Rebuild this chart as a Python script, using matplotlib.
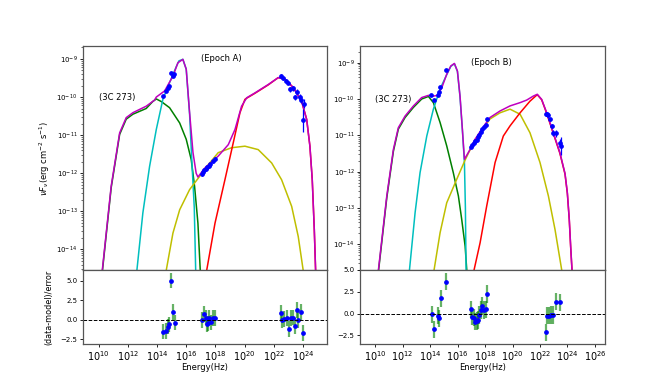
import numpy as np
import matplotlib
matplotlib.use("Agg")
import matplotlib.pyplot as plt

# ---- Epoch A model curves (log10 nu, log10 nuFnu) ----
totA_nu = [10.1, 10.25, 10.86, 11.44, 11.89, 12.35, 13.26, 13.83, 13.95, 14.52, 15.09, 15.43, 15.77, 16.0, 16.23,
           16.46, 16.68, 16.8, 17.28, 18.19, 18.88, 19.34, 19.79, 20.14, 20.71, 21.62, 22.3, 22.76, 23.33, 23.9,
           24.25, 24.47, 24.63, 24.77, 24.86, 24.95]
totA_f = [-15.2, -14.55, -12.34, -10.94, -10.54, -10.41, -10.24, -10.08, -10.0, -9.84, -9.45, -9.1, -9.01, -9.27,
          -10.41, -11.45, -12.0, -12.1, -11.86, -11.55, -11.25, -10.85, -10.24, -10.02, -9.89, -9.67, -9.49, -9.53,
          -9.75, -10.11, -10.59, -11.29, -12.17, -13.48, -14.55, -15.5]
synA_nu = [10.1, 10.25, 10.86, 11.44, 11.89, 12.35, 13.26, 13.7, 13.95, 14.3, 14.86, 15.55, 16.0, 16.34, 16.57,
           16.8, 16.96, 17.05]
synA_f = [-15.25, -14.6, -12.38, -10.98, -10.58, -10.45, -10.3, -10.12, -10.05, -10.12, -10.28, -10.68, -11.11,
          -11.64, -12.34, -13.31, -14.55, -15.5]
diskA_nu = [12.5, 12.62, 13.03, 13.49, 13.95, 14.4, 14.86, 15.32, 15.5, 15.77, 16.0, 16.23, 16.4, 16.55, 16.65, 16.7]
diskA_f = [-15.2, -14.55, -13.04, -11.82, -10.85, -10.06, -9.62, -9.2, -9.05, -9.01, -9.27, -10.45, -11.8, -12.9,
           -14.6, -15.5]
sscA_nu = [14.5, 14.63, 15.09, 15.55, 16.23, 16.92, 17.5, 18.19, 19.11, 20.02, 20.93, 21.85, 22.53, 23.22, 23.67,
           24.01, 24.1]
sscA_f = [-15.2, -14.55, -13.57, -12.96, -12.43, -12.08, -11.78, -11.46, -11.33, -11.29, -11.38, -11.73, -12.17,
          -12.87, -13.66, -14.55, -15.2]
ecA_nu = [17.3, 17.4, 17.97, 18.65, 19.22, 19.68, 20.02, 20.14, 20.71, 21.62, 22.3, 22.76, 23.33, 23.9, 24.25,
          24.47, 24.63, 24.77, 24.86, 24.95]
ecA_f = [-15.2, -14.55, -13.31, -12.17, -11.2, -10.41, -10.06, -10.03, -9.9, -9.68, -9.49, -9.53, -9.75, -10.11,
         -10.59, -11.29, -12.17, -13.48, -14.55, -15.5]

# ---- Epoch A data ----
datA_nu = [14.38, 14.61, 14.72, 14.84, 14.95, 15.07, 15.18,
           17.05, 17.15, 17.25, 17.35, 17.45, 17.55, 17.65, 17.8, 17.97,
           22.47, 22.65, 22.83, 22.99, 23.1, 23.29, 23.45, 23.56, 23.79, 23.84, 23.97, 24.08]
datA_f = [-9.97, -9.83, -9.76, -9.7, -9.36, -9.45, -9.39,
          -12.02, -11.96, -11.92, -11.9, -11.84, -11.8, -11.76, -11.68, -11.62,
          -9.44, -9.51, -9.57, -9.62, -9.8, -9.77, -10.01, -9.86, -9.99, -10.08, -10.61, -10.18]
datA_err = [0.02, 0.02, 0.02, 0.02, 0.03, 0.03, 0.03,
            0.04, 0.04, 0.04, 0.04, 0.04, 0.04, 0.04, 0.04, 0.04,
            0.04, 0.04, 0.05, 0.05, 0.06, 0.06, 0.07, 0.07, 0.08, 0.08, 0.3, 0.12]
resA_nu = [14.38, 14.61, 14.72, 14.84, 14.95, 15.07, 15.2,
           17.1, 17.21, 17.33, 17.4, 17.51, 17.58, 17.69, 17.81, 17.97,
           22.47, 22.58, 22.69, 22.88, 23.06, 23.15, 23.29, 23.45, 23.56, 23.67, 23.84, 23.97]
resA = [-1.55, -1.47, -0.91, -0.61, 5.0, 1.0, -0.4,
        -0.05, 0.72, 0.24, -0.61, -0.48, 0.24, -0.35, 0.17, 0.17,
        0.89, -0.05, 0.08, 0.17, -1.2, 0.17, 0.24, -0.82, 1.23, -0.05, 0.94, -1.76]

# ---- Epoch B model curves ----
totB_nu = [10.1, 10.24, 10.85, 11.33, 11.69, 12.18, 12.79, 13.39, 13.88, 14.24, 14.53, 14.85, 15.21, 15.51, 15.77,
           15.99, 16.18, 16.35, 16.5, 16.91, 17.27, 17.64, 18.0, 18.36, 19.09, 19.82, 20.55, 21.03, 21.51, 21.8,
           22.12, 22.49, 22.97, 23.45, 23.82, 23.99, 24.13, 24.23, 24.33, 24.4]
totB_f = [-15.3, -14.71, -12.67, -11.39, -10.79, -10.47, -10.19, -9.96, -9.9, -9.92, -9.9, -9.69, -9.32, -9.09,
          -9.02, -9.23, -9.92, -10.83, -11.66, -11.39, -11.11, -10.9, -10.7, -10.51, -10.33, -10.19, -10.1, -10.03,
          -9.92, -9.87, -10.01, -10.38, -10.93, -11.48, -12.05, -12.58, -13.31, -14.05, -14.71, -15.3]
synB_nu = [10.1, 10.24, 10.85, 11.33, 11.69, 12.18, 12.79, 13.39, 13.88, 14.24, 14.73, 15.21, 15.69, 16.06, 16.3,
           16.55, 16.67, 16.75]
synB_f = [-15.35, -14.76, -12.72, -11.44, -10.83, -10.51, -10.23, -10.0, -9.93, -10.1, -10.65, -11.29, -12.03,
          -12.67, -13.31, -14.05, -14.71, -15.3]
diskB_nu = [12.4, 12.5, 12.91, 13.27, 13.76, 14.24, 14.73, 15.21, 15.51, 15.77, 15.99, 16.18, 16.35, 16.5, 16.57,
            16.62, 16.66]
diskB_f = [-15.3, -14.71, -13.13, -12.03, -11.02, -10.28, -9.72, -9.33, -9.1, -9.03, -9.24, -9.95, -10.85, -11.75,
           -13.0, -14.71, -15.3]
sscB_nu = [14.2, 14.29, 14.73, 15.21, 15.94, 16.55, 17.0, 17.5, 18.0, 18.36, 19.09, 19.82, 20.55, 21.27, 22.0,
           22.61, 23.09, 23.58, 23.7]
sscB_f = [-15.3, -14.71, -13.68, -12.86, -12.21, -11.68, -11.33, -11.0, -10.74, -10.55, -10.38, -10.28, -10.42,
          -10.93, -11.75, -12.67, -13.59, -14.71, -15.3]
ecB_nu = [17.1, 17.2, 17.64, 18.12, 18.73, 19.33, 19.82, 20.55, 21.27, 21.8, 22.12, 22.49, 22.97, 23.45, 23.82,
          23.99, 24.13, 24.23, 24.33, 24.4]
ecB_f = [-15.3, -14.71, -13.96, -12.95, -11.75, -11.02, -10.74, -10.38, -10.06, -9.88, -10.02, -10.4, -10.95,
         -11.5, -12.07, -12.6, -13.33, -14.07, -14.73, -15.3]

# ---- Epoch B data ----
datB_nu = [14.07, 14.31, 14.56, 14.66, 14.73, 15.14,
           17.0, 17.08, 17.2, 17.27, 17.4, 17.51, 17.59, 17.69, 17.81, 17.93, 18.05, 18.12,
           22.44, 22.53, 22.61, 22.73, 22.85, 22.97, 23.16, 23.45, 23.55]
datB_f = [-9.89, -10.03, -9.88, -9.8, -9.66, -9.2,
          -11.31, -11.27, -11.21, -11.17, -11.12, -11.05, -10.98, -10.9, -10.82, -10.76, -10.72, -10.56,
          -10.42, -10.4, -10.45, -10.56, -10.74, -10.93, -10.95, -11.2, -11.3]
datB_err = [0.02, 0.02, 0.02, 0.02, 0.02, 0.02,
            0.03, 0.03, 0.03, 0.03, 0.03, 0.03, 0.03, 0.03, 0.03, 0.03, 0.03, 0.03,
            0.04, 0.04, 0.05, 0.05, 0.06, 0.08, 0.1, 0.1, 0.25]
resB_nu = [14.12, 14.31, 14.6, 14.68, 14.78, 15.16,
           16.98, 17.08, 17.2, 17.27, 17.4, 17.51, 17.59, 17.69, 17.81, 17.93, 18.05, 18.12,
           22.44, 22.53, 22.68, 22.8, 22.92, 23.16, 23.45]
resB = [-0.09, -1.81, -0.24, -0.55, 1.75, 3.66,
        0.49, -0.36, -0.47, -0.93, -0.86, -0.75, -0.17, 0.4, 0.9, 0.4, 0.49, 2.25,
        -2.16, -0.24, -0.24, -0.17, -0.17, 1.36, 1.3]

panels = [
    dict(curves=[(synA_nu, synA_f, 'g'), (diskA_nu, diskA_f, 'c'), (sscA_nu, sscA_f, 'y'),
                 (ecA_nu, ecA_f, 'r'), (totA_nu, totA_f, 'm')],
         dnu=datA_nu, df=datA_f, derr=datA_err, rnu=resA_nu, r=resA, label='(Epoch A)',
         x0=83, x1=327, xlim=(8.93, 25.64), ylim=(-14.54, -8.66), rlim=(-3.14, 6.37)),
    dict(curves=[(synB_nu, synB_f, 'g'), (diskB_nu, diskB_f, 'c'), (sscB_nu, sscB_f, 'y'),
                 (ecB_nu, ecB_f, 'r'), (totB_nu, totB_f, 'm')],
         dnu=datB_nu, df=datB_f, derr=datB_err, rnu=resB_nu, r=resB, label='(Epoch B)',
         x0=360, x1=605, xlim=(8.9, 26.73), ylim=(-14.71, -8.54), rlim=(-3.5, 5.0)),
]

W, H = 672, 387
fig = plt.figure(figsize=(W / 100, H / 100), dpi=100)

for i, p in enumerate(panels):
    l = p['x0'] / W
    w = (p['x1'] - p['x0']) / W
    ax = fig.add_axes([l, 1 - 270 / H, w, (270 - 46) / H])
    rax = fig.add_axes([l, 1 - 344 / H, w, (344 - 270) / H], sharex=ax)

    for nu, f, c in p['curves']:
        ax.plot(10 ** np.array(nu), 10 ** np.array(f), color=c, lw=1.1)

    x = 10 ** np.array(p['dnu'])
    y = 10 ** np.array(p['df'])
    e = np.array(p['derr'])
    lo = y - 10 ** (np.array(p['df']) - e)
    hi = 10 ** (np.array(p['df']) + e) - y
    ax.errorbar(x, y, yerr=[lo, hi], fmt='o', color='b', ms=2.4, lw=0.9, capsize=0)

    ax.set_xscale('log')
    ax.set_yscale('log')
    ax.set_xlim(10 ** p['xlim'][0], 10 ** p['xlim'][1])
    ax.set_ylim(10 ** p['ylim'][0], 10 ** p['ylim'][1])
    ax.tick_params(labelbottom=False, labelsize=5, length=2, width=0.6, pad=2)
    ax.tick_params(which='minor', length=1.2, width=0.4)
    ax.text(1e10, 1e-10, '(3C 273)', fontsize=6, va='center')
    ax.text(10 ** 17.0, 1e-9, p['label'], fontsize=6, va='center')

    rx = 10 ** np.array(p['rnu'])
    rax.errorbar(rx, p['r'], yerr=1.0, fmt='none', ecolor='g', alpha=0.6, lw=1.6)
    rax.plot(rx, p['r'], 'o', color='b', ms=2.4)
    rax.axhline(0, color='k', ls='--', lw=0.7)
    rax.set_ylim(*p['rlim'])
    rax.set_yticks([-2.5, 0.0, 2.5, 5.0])
    rax.tick_params(axis='y', labelsize=5, length=2, width=0.6, pad=2)
    rax.tick_params(axis='x', labelsize=7, length=2, width=0.6, pad=1.5)
    rax.tick_params(which='minor', length=1.2, width=0.4)
    rax.set_xlabel('Energy(Hz)', fontsize=6, labelpad=0.5)

    for a in (ax, rax):
        for s in a.spines.values():
            s.set_linewidth(0.9)
            s.set_color('#555555')

    if i == 0:
        ax.set_ylabel(r'$\nu F_{\nu}$(erg cm$^{-2}$ s$^{-1}$)', fontsize=6, labelpad=3)
        rax.set_ylabel('(data-model)/error', fontsize=5.8, labelpad=5)

fig.savefig('out.png', dpi=100)
